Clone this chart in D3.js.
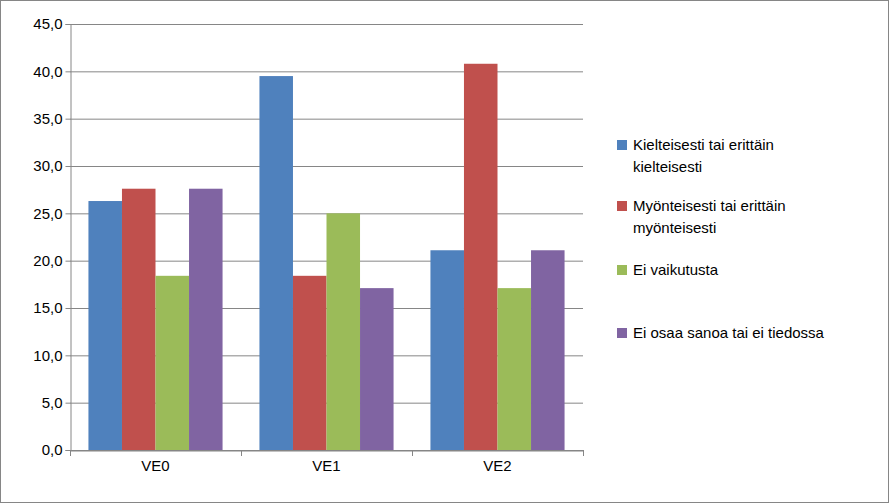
<!DOCTYPE html>
<html><head><meta charset="utf-8">
<script src="https://cdn.jsdelivr.net/npm/d3@7"></script>
<style>body{margin:0;background:#fff}text{font-family:"Liberation Sans",Arial,sans-serif}</style>
</head><body>
<script>
const categories = ["VE0", "VE1", "VE2"];
const seriesNames = ["Kielteisesti tai erittäin kielteisesti", "Myönteisesti tai erittäin myönteisesti", "Ei vaikutusta", "Ei osaa sanoa tai ei tiedossa"];
const legendLines = [["Kielteisesti tai erittäin", "kielteisesti"], ["Myönteisesti tai erittäin", "myönteisesti"], ["Ei vaikutusta"], ["Ei osaa sanoa tai ei tiedossa"]];
const kielteisesti = [26.3, 39.5, 21.1];
const myonteisesti = [27.6, 18.4, 40.8];
const eiVaikutusta = [18.4, 25.0, 17.1];
const eiOsaa = [27.6, 17.1, 21.1];
const colors = ["#4F81BD", "#C0504D", "#9BBB59", "#8064A2"];
const yTicks = d3.range(0, 46, 5);

const W = 889, H = 503;
const svg = d3.select("body").append("svg").attr("width", W).attr("height", H);
svg.append("rect").attr("x", 0.5).attr("y", 0.5).attr("width", W - 1).attr("height", H - 1)
  .attr("fill", "#fff").attr("stroke", "#868686");

const x = d3.scaleBand().domain(categories).range([70, 583]);
const y = d3.scaleLinear().domain([0, 45]).range([450, 24]);
const series = [kielteisesti, myonteisesti, eiVaikutusta, eiOsaa];
const inner = d3.scaleBand().domain(d3.range(4)).range([0, x.bandwidth()]).paddingOuter(0.55).paddingInner(0);

// gridlines
svg.append("g").selectAll("line").data(yTicks).join("line")
  .attr("x1", 70).attr("x2", 583).attr("y1", d => y(d) + 0.5).attr("y2", d => y(d) + 0.5)
  .attr("stroke", "#868686");

series.forEach((vals, s) => {
  svg.append("g").selectAll("rect").data(vals).join("rect")
    .attr("x", (d, i) => x(categories[i]) + inner(s))
    .attr("width", inner.bandwidth())
    .attr("y", d => y(d)).attr("height", d => y(0) - y(d))
    .attr("fill", colors[s]);
});

// axes
const ya = svg.append("g").attr("transform", "translate(70.5,0)")
  .call(d3.axisLeft(y).tickValues(yTicks).tickSize(5).tickFormat(d => d.toFixed(1).replace(".", ",")));
const xa = svg.append("g").attr("transform", "translate(0,450.5)")
  .call(d3.axisBottom(x).tickSize(0).tickPadding(10));
[ya, xa].forEach(g => {
  g.select(".domain").attr("stroke", "#868686");
  g.selectAll("line").attr("stroke", "#868686");
  g.selectAll("text").attr("font-size", 15).attr("fill", "#000");
});
ya.selectAll("text").attr("x", -8);
svg.append("g").selectAll("line").data([70, 241, 412, 583]).join("line")
  .attr("x1", d => Math.round(d) + 0.5).attr("x2", d => Math.round(d) + 0.5)
  .attr("y1", 450).attr("y2", 456).attr("stroke", "#868686");

// legend
const legY = [145, 206, 270, 333];
const leg = svg.append("g");
legendLines.forEach((lines, i) => {
  leg.append("rect").attr("x", 617).attr("y", legY[i] - 5).attr("width", 10).attr("height", 10).attr("fill", colors[i]);
  leg.append("text").attr("x", 633).attr("y", legY[i] + 5).attr("font-size", 15)
    .selectAll("tspan").data(lines).join("tspan").attr("x", 633).attr("dy", (d, j) => j ? 22 : 0).text(d => d);
});
</script>
</body></html>
